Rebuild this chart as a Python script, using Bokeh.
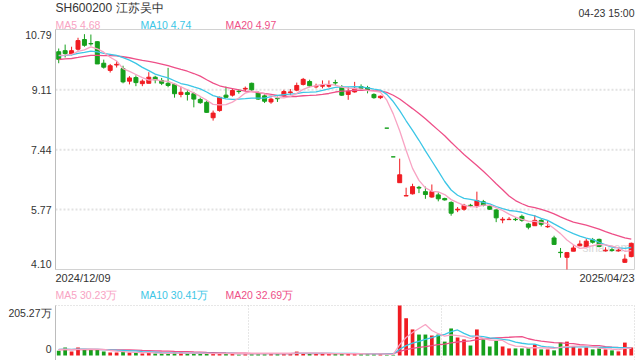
import pandas as pd
from bokeh.plotting import figure
from bokeh.models import Range1d, ColumnDataSource
from bokeh.core.properties import value
from bokeh.embed import file_html
from bokeh.resources import INLINE

# ---------------- data ----------------
title_text = "SH600200 江苏吴中"
time_text = "04-23 15:00"
date_labels = ["2024/12/09", "2025/04/23"]
price_ticks = [10.79, 9.11, 7.44, 5.77, 4.10]
price_tick_labels = ["10.79", "9.11", "7.44", "5.77", "4.10"]
vol_ticks = [205.27, 0]
vol_tick_labels = ["205.27万", "0"]
price_legend = ["MA5 4.68", "MA10 4.74", "MA20 4.97"]
vol_legend = ["MA5 30.23万", "MA10 30.41万", "MA20 32.69万"]

opens = [10.17, 10.20, 10.11, 10.24, 10.51, 10.40, 10.45, 9.85, 9.65, 9.80,
         9.70, 9.35, 9.45, 9.28, 9.29, 9.46, 9.37, 9.29, 9.26, 8.98,
         9.03, 9.00, 8.84, 8.76, 8.33, 8.53, 8.96, 8.96, 9.07, 9.13,
         9.29, 9.03, 8.94, 8.77, 8.87, 8.94, 9.03, 9.10, 9.26, 9.34,
         9.19, 9.21, 9.21, 9.31, 9.18, 8.98, 9.05, 9.20, 9.17, 8.98,
         8.89, 8.04, 7.24, 6.52, 6.15, 6.21, 6.39, 6.27, 6.12, 6.18,
         6.08, 5.97, 5.76, 5.78, 5.89, 5.88, 5.99, 5.86, 5.76, 5.48,
         5.49, 5.50, 5.58, 5.37, 5.32, 5.47, 5.29, 4.98, 4.58, 4.44,
         4.61, 4.76, 4.74, 4.93, 4.94, 4.62, 4.65, 4.62, 4.30, 4.46]
highs = [10.26, 10.37, 10.31, 10.56, 10.66, 10.65, 10.46, 9.95, 9.83, 9.91,
         9.78, 9.49, 9.51, 9.40, 9.60, 9.50, 9.44, 9.72, 9.29, 9.20,
         9.11, 9.05, 8.89, 8.81, 8.53, 8.92, 9.20, 9.13, 9.13, 9.20,
         9.31, 9.07, 9.00, 8.89, 8.92, 9.11, 9.13, 9.31, 9.44, 9.39,
         9.28, 9.37, 9.37, 9.39, 9.24, 9.18, 9.33, 9.26, 9.22, 9.01,
         8.95, 8.04, 7.24, 7.19, 6.38, 6.49, 6.43, 6.41, 6.47, 6.25,
         6.10, 6.00, 5.84, 5.93, 5.93, 6.27, 6.04, 5.89, 5.78, 5.56,
         5.56, 5.56, 5.63, 5.40, 5.62, 5.50, 5.47, 5.04, 4.70, 4.59,
         4.78, 4.91, 4.96, 4.98, 4.96, 4.72, 4.70, 4.68, 4.52, 4.85]
lows = [9.85, 10.01, 10.07, 10.20, 10.31, 10.34, 9.83, 9.70, 9.59, 9.73,
        9.29, 9.26, 9.21, 9.21, 9.29, 9.29, 9.24, 9.18, 8.89, 8.90,
        8.81, 8.62, 8.72, 8.47, 8.25, 8.50, 8.89, 8.92, 9.00, 9.07,
        9.07, 8.83, 8.74, 8.72, 8.77, 8.90, 8.96, 9.07, 9.23, 9.18,
        9.15, 9.15, 9.17, 9.23, 8.94, 8.83, 9.03, 9.09, 9.01, 8.86,
        8.85, 8.04, 7.24, 6.52, 6.15, 6.19, 6.23, 6.07, 6.10, 6.00,
        6.02, 5.60, 5.70, 5.74, 5.84, 5.82, 5.86, 5.76, 5.42, 5.39,
        5.49, 5.45, 5.43, 5.22, 5.32, 5.30, 5.26, 4.79, 4.43, 4.10,
        4.61, 4.75, 4.74, 4.82, 4.72, 4.60, 4.60, 4.60, 4.29, 4.44]
closes = [9.96, 10.12, 10.20, 10.48, 10.35, 10.39, 9.83, 9.74, 9.78, 9.82,
          9.33, 9.44, 9.31, 9.35, 9.46, 9.39, 9.29, 9.23, 9.00, 9.04,
          8.98, 8.85, 8.75, 8.48, 8.46, 8.90, 8.90, 9.09, 9.06, 9.15,
          9.11, 8.85, 8.79, 8.85, 8.86, 9.06, 9.05, 9.23, 9.40, 9.22,
          9.21, 9.23, 9.23, 9.30, 8.96, 9.07, 9.15, 9.15, 9.09, 8.89,
          8.93, 8.04, 7.24, 6.74, 6.16, 6.41, 6.37, 6.19, 6.27, 6.07,
          6.04, 5.67, 5.78, 5.89, 5.88, 6.02, 5.89, 5.78, 5.54, 5.50,
          5.50, 5.49, 5.47, 5.28, 5.47, 5.36, 5.30, 4.80, 4.57, 4.57,
          4.70, 4.81, 4.89, 4.86, 4.74, 4.64, 4.63, 4.64, 4.39, 4.83]
# volume, in 万 shares
volumes = [20, 33, 16, 33, 25, 25, 25, 16, 12, 12,
           16, 12, 12, 8, 12, 8, 8, 8, 12, 12,
           8, 8, 8, 8, 8, 8, 8, 8, 4, 8,
           8, 8, 8, 8, 8, 8, 8, 16, 8, 8,
           8, 8, 7, 7, 8, 7, 7, 7, 6, 7,
           6, 3, 3, 205.27, 153, 107, 86, 86, 82, 86,
           57, 111, 74, 66, 41, 107, 66, 37, 62, 37,
           29, 29, 29, 30, 45, 25, 25, 21, 53, 57,
           37, 29, 33, 25, 29, 25, 21, 17, 53, 33]
# closes / volumes of the sessions just before 2024/12/09, estimated from where
# the moving-average curves start at the left edge
prior_closes = [9.80, 9.95, 9.90, 9.75, 9.82, 9.85, 9.88, 9.80, 9.90, 9.85,
                10.00, 10.05, 10.10, 10.02, 10.05, 10.08, 10.12, 10.05, 10.14]
prior_volumes = [18, 22, 25, 20, 28, 24, 21, 26, 23, 19,
                 24, 27, 22, 25, 30, 26, 23, 28, 24]

# ---------------- styles / layout (pixels) ----------------
W, H = 640, 360
PX_L, PX_R = 55, 634            # panel left / right
PRICE_TOP, PRICE_BOT = 29, 269  # price panel top / bottom
VOL_TOP, VOL_BOT = 305, 355     # volume panel top / zero line
RED = "#f01c22"
GREEN = "#16a01c"
C_MA5 = "#f8a3c3"
C_MA10 = "#3cc6e6"
C_MA20 = "#ee4f88"
TXT = "#333333"
FONT = "Liberation Sans"

n = len(closes)
xs = list(range(n))
colors = []
for i in range(n):
    if closes[i] > opens[i]:
        colors.append(RED)
    elif closes[i] < opens[i]:
        colors.append(GREEN)
    else:
        prev = closes[i - 1] if i > 0 else prior_closes[-1]
        colors.append(RED if closes[i] >= prev else GREEN)

cs = pd.Series(prior_closes + closes)
vs = pd.Series(prior_volumes + volumes)
k = len(prior_closes)
ma = {w: cs.rolling(w).mean().values[k:] for w in (5, 10, 20)}
vma = {w: vs.rolling(w).mean().values[k:] for w in (5, 10, 20)}

src = ColumnDataSource(dict(
    x=xs, o=opens, h=highs, l=lows, c=closes, v=volumes, color=colors,
    top=[max(a, b) for a, b in zip(opens, closes)],
    bot=[min(a, b) for a, b in zip(opens, closes)],
    ma5=ma[5], ma10=ma[10], ma20=ma[20],
    vma5=vma[5], vma10=vma[10], vma20=vma[20],
))

# scales: one frame covering the whole canvas, price and volume panels
x0, x1 = -0.5, n - 0.5
sx = (PX_R - PX_L) / n
pmax, pmin = price_ticks[0], price_ticks[-1]
sp = (PRICE_BOT - PRICE_TOP) / (pmax - pmin)
vmax = vol_ticks[0]
sv = (VOL_BOT - VOL_TOP) / vmax


def X(px):
    return x0 + (px - PX_L) / sx


def PY(py):
    return pmax - (py - PRICE_TOP) / sp


def VY(py):
    return vmax - (py - VOL_TOP) / sv


p = figure(width=W, height=H, output_backend="svg", toolbar_location=None,
           x_axis_location=None, y_axis_location=None,
           x_range=Range1d(X(0), X(W)), y_range=Range1d(PY(H), PY(0)),
           min_border=0, min_border_left=0, min_border_right=0,
           min_border_top=0, min_border_bottom=0,
           background_fill_color="white", border_fill_color="white",
           outline_line_color=None)
p.extra_y_ranges = {"vol": Range1d(VY(H), VY(0))}
p.xgrid.visible = False
p.ygrid.visible = False

# watermark
p.text(x=[X(630)], y=[PY(247)], text=["sina.com"], text_color="#d9d9d9",
       text_font=value(FONT), text_font_size="12px", text_align="right",
       text_baseline="middle")

# price panel frame + dotted grid
p.segment(x0=[x0] * 3, x1=[x1] * 3, y0=price_ticks[1:-1], y1=price_ticks[1:-1],
          line_color="#e2e2e2", line_width=2, line_dash="2 2")
p.quad(left=[x0], right=[x1], bottom=[pmin], top=[pmax], fill_color=None,
       line_color="#d2d2d2", line_width=1)
p.segment(x0=[x0], x1=[x0], y0=[pmin], y1=[pmax], line_color="#bcbcbc", line_width=1)

# candles
p.segment("x", "l", "x", "h", source=src, line_color="color", line_width=1)
p.vbar(x="x", top="top", bottom="bot", width=0.62, source=src,
       fill_color="color", line_color="color", line_width=1)
p.line("x", "ma20", source=src, line_color=C_MA20, line_width=1.3)
p.line("x", "ma10", source=src, line_color=C_MA10, line_width=1.3)
p.line("x", "ma5", source=src, line_color=C_MA5, line_width=1.3)

# volume panel frame + grid
vb = VY(H)
p.segment(x0=[x0 + n / 3, x0 + 2 * n / 3, x1], x1=[x0 + n / 3, x0 + 2 * n / 3, x1],
          y0=[vb] * 3, y1=[vmax] * 3, y_range_name="vol",
          line_color="#cfcfcf", line_width=1, line_dash="1 2")
p.segment(x0=[x0], x1=[x1], y0=[vmax], y1=[vmax], y_range_name="vol",
          line_color="#cfcfcf", line_width=1, line_dash="1 2")
p.segment(x0=[x0], x1=[x0], y0=[vb], y1=[vmax], y_range_name="vol",
          line_color="#bcbcbc", line_width=1)

p.vbar(x="x", top="v", bottom=0, width=0.58, source=src, y_range_name="vol",
       fill_color="color", line_color=None)
p.line("x", "vma20", source=src, y_range_name="vol", line_color=C_MA20, line_width=1.3)
p.line("x", "vma10", source=src, y_range_name="vol", line_color=C_MA10, line_width=1.3)
p.line("x", "vma5", source=src, y_range_name="vol", line_color=C_MA5, line_width=1.3)

# ---------------- texts ----------------
def txt(xv, yv, t, color=TXT, size="10.5px", align="left", rng="default"):
    p.text(x=xv, y=yv, text=t, text_color=color, text_font=value(FONT),
           text_font_size=size, text_align=align, text_baseline="middle",
           y_range_name=rng)


txt([X(PX_L)], [PY(7)], [title_text], size="12px")
txt([X(PX_R)], [PY(12)], [time_text], align="right")
leg_x = [X(PX_L), X(PX_L + 85), X(PX_L + 170)]
leg_c = [C_MA5, C_MA10, C_MA20]
txt(leg_x, [PY(24)] * 3, price_legend, color=leg_c)
# price tick labels: top one sits just below the frame top, bottom one just above
ylab_y = [PY(PRICE_TOP + 5)] + price_ticks[1:-1] + [PY(PRICE_BOT - 6)]
txt([X(PX_L - 4)] * len(price_ticks), ylab_y, price_tick_labels, align="right")
txt([X(PX_L)], [PY(277)], [date_labels[0]], size="11px")
txt([X(PX_R)], [PY(277)], [date_labels[1]], size="11px", align="right")
txt(leg_x, [PY(294)] * 3, vol_legend, color=leg_c)
txt([X(PX_L - 4)] * 2, [VY(VOL_TOP + 7), VY(VOL_BOT - 7)], vol_tick_labels,
    align="right", rng="vol")

open("out.html", "w").write(file_html(p, INLINE))
